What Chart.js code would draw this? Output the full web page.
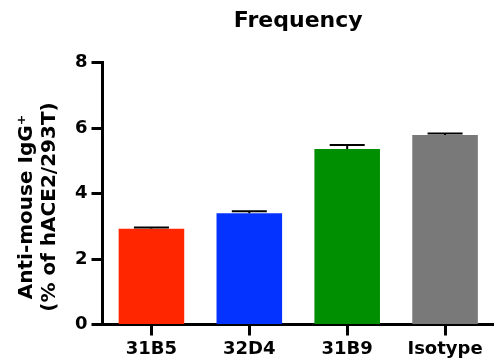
<!DOCTYPE html>
<html>
<head>
<meta charset="utf-8">
<script src="https://cdn.jsdelivr.net/npm/chart.js@4"></script>
<style>
  html, body { margin: 0; padding: 0; background: #fff; }
  #wrap { width: 494px; height: 364px; }
</style>
</head>
<body>
<div id="wrap"><canvas id="chart" width="494" height="364"></canvas></div>
<script>
// data
const categories = ['31B5', '32D4', '31B9', 'Isotype'];
const means = [2.92, 3.40, 5.36, 5.79];
const errors = [0.04, 0.06, 0.12, 0.04];
const barColors = ['#ff2600', '#0433ff', '#008f00', '#797979'];
const yTicks = [0, 2, 4, 6, 8];
const titleText = 'Frequency';
const yTitleLines = ['Anti-mouse IgG\u207A', '(% of hACE2/293T)'];

const FONT = 'DejaVu Sans';

// upper error bars (SEM style, cap only above the bar)
const errorBars = {
    id: 'errorBars',
    afterDatasetsDraw(chart) {
        const ctx = chart.ctx;
        const y = chart.scales.y;
        const meta = chart.getDatasetMeta(0);
        ctx.save();
        ctx.strokeStyle = '#000';
        ctx.lineWidth = 2;
        meta.data.forEach((bar, i) => {
            const top = y.getPixelForValue(means[i] + errors[i]);
            ctx.beginPath();
            ctx.moveTo(bar.x, bar.y);
            ctx.lineTo(bar.x, top);
            ctx.moveTo(bar.x - 17.5, top);
            ctx.lineTo(bar.x + 17.5, top);
            ctx.stroke();
        });
        ctx.restore();
    }
};

// title + two-line y title, placed like the original
const labels = {
    id: 'labels',
    afterDraw(chart) {
        const ctx = chart.ctx;
        const area = chart.chartArea;
        ctx.save();
        ctx.fillStyle = '#000';
        ctx.font = 'bold 22px "' + FONT + '"';
        ctx.textAlign = 'center';
        ctx.textBaseline = 'alphabetic';
        ctx.fillText(titleText, (area.left + area.right) / 2, 27);

        ctx.font = 'bold 20px "' + FONT + '"';
        ctx.translate(0, 207);
        ctx.rotate(-Math.PI / 2);
        ctx.fillText(yTitleLines[0], 0, 32);
        ctx.fillText(yTitleLines[1], 0, 55);
        ctx.restore();
    }
};

Chart.defaults.font.family = FONT;
Chart.defaults.font.weight = 'bold';
Chart.defaults.color = '#000';

new Chart(document.getElementById('chart'), {
    type: 'bar',
    data: {
        labels: categories,
        datasets: [{
            data: means,
            backgroundColor: barColors,
            borderWidth: 0,
            categoryPercentage: 1,
            barPercentage: 0.67
        }]
    },
    options: {
        responsive: false,
        animation: false,
        layout: { padding: { top: 62.5, right: -2.5, left: 0, bottom: 0 } },
        plugins: {
            legend: { display: false },
            title: { display: false },
            tooltip: { enabled: false }
        },
        scales: {
            x: {
                grid: {
                    offset: false,
                    drawOnChartArea: false,
                    tickLength: 11,
                    tickWidth: 3,
                    tickColor: '#000'
                },
                border: { width: 3, color: '#000' },
                ticks: { font: { size: 18, weight: 'bold' }, padding: 3, maxRotation: 0 },
                afterFit(scale) { scale.height = 39.5; }
            },
            y: {
                min: 0,
                max: 8,
                grid: {
                    drawOnChartArea: false,
                    tickLength: 11,
                    tickWidth: 3,
                    tickColor: '#000'
                },
                border: { width: 3, color: '#000' },
                afterBuildTicks(scale) { scale.ticks = yTicks.map(v => ({ value: v })); },
                ticks: { font: { size: 18, weight: 'bold' }, padding: 4 },
                afterFit(scale) { scale.width = 102.5; }
            }
        }
    },
    plugins: [errorBars, labels]
});
</script>
</body>
</html>
